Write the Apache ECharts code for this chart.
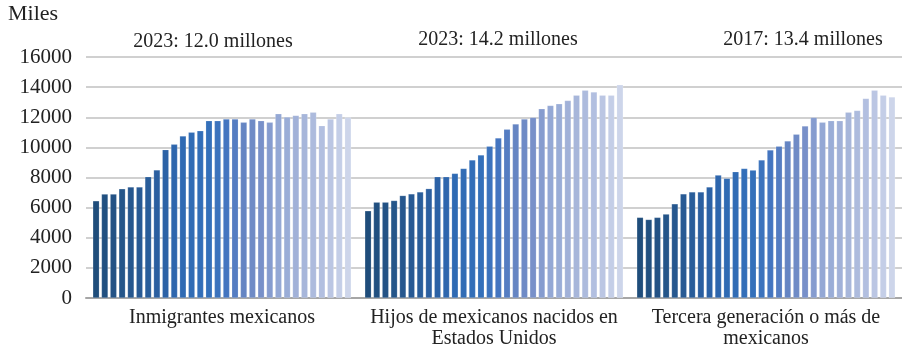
<!DOCTYPE html>
<html>
<head>
<meta charset="utf-8">
<script src="https://cdn.jsdelivr.net/npm/echarts@6/dist/echarts.min.js"></script>
<style>
html,body{margin:0;padding:0;background:#fff;}
#chart{width:902px;height:349px;}
</style>
</head>
<body>
<div id="chart"></div>
<script>
const categories = ['Inmigrantes mexicanos', 'Hijos de mexicanos nacidos en\nEstados Unidos', 'Tercera generación o más de\nmexicanos'];
const years = [1994,1995,1996,1997,1998,1999,2000,2001,2002,2003,2004,2005,2006,2007,2008,2009,2010,2011,2012,2013,2014,2015,2016,2017,2018,2019,2020,2021,2022,2023];
const inmigrantes = [6450,6900,6900,7250,7370,7370,8050,8500,9850,10200,10750,11000,11100,11770,11770,11880,11880,11660,11880,11770,11660,12230,12010,12120,12230,12340,11440,11880,12230,12000];
const hijos = [5790,6360,6360,6470,6800,6910,7040,7260,8050,8050,8270,8600,9170,9500,10080,10630,11200,11550,11880,11990,12560,12780,12890,13110,13460,13790,13680,13460,13460,14150];
const tercera = [5350,5210,5350,5570,6250,6910,7040,7040,7370,8160,7940,8380,8600,8490,9170,9830,10080,10430,10870,11420,11990,11660,11770,11770,12340,12450,13250,13790,13460,13350];
const yTicks = [0,2000,4000,6000,8000,10000,12000,14000,16000];
const notes = ['2023: 12.0 millones', '2023: 14.2 millones', '2017: 13.4 millones'];

// colour ramp anchors (index -> colour)
const anchors = [[0,'#1f4d7b'],[4,'#26578e'],[8,'#2c62a6'],[10,'#2f6ab3'],[13,'#3470ba'],[15,'#4475c0'],[17,'#6585c3'],[19,'#7890c9'],[21,'#94a8d5'],[24,'#a7b6da'],[26,'#b2bfe0'],[29,'#cdd5ea']];
function hex2rgb(h){return [1,3,5].map(i=>parseInt(h.substr(i,2),16));}
function colorAt(i){
  for(let k=0;k<anchors.length-1;k++){
    const [a,ca]=anchors[k],[b,cb]=anchors[k+1];
    if(i>=a&&i<=b){
      const t=(i-a)/(b-a),A=hex2rgb(ca),B=hex2rgb(cb);
      return 'rgb('+A.map((v,j)=>Math.round(v+(B[j]-v)*t)).join(',')+')';
    }
  }
  return anchors[anchors.length-1][1];
}

const FONT = '"Liberation Serif", "DejaVu Serif", serif';
const series = years.map((y,i)=>({
  name: String(y),
  type: 'bar',
  data: [inmigrantes[i], hijos[i], tercera[i]],
  itemStyle: {color: colorAt(i), borderColor: 'rgba(255,255,255,0.35)', borderWidth: 0.5},
  barGap: '33%',
  barCategoryGap: '5%',
  animation: false
}));

const chart = echarts.init(document.getElementById('chart'), null, {renderer:'canvas'});
chart.setOption({
  animation: false,
  grid: {left: 86, right: -2, top: 57, bottom: 50, containLabel: false},
  xAxis: {
    type: 'category',
    data: categories,
    axisTick: {show: false},
    axisLine: {lineStyle: {color: '#a6a6a6', width: 2}},
    axisLabel: {color: '#222', fontFamily: FONT, fontSize: 20, lineHeight: 21, margin: 9, interval: 0}
  },
  yAxis: {
    type: 'value',
    min: yTicks[0], max: yTicks[yTicks.length-1], interval: 2000,
    axisLine: {show: false}, axisTick: {show: false},
    axisLabel: {color: '#222', fontFamily: FONT, fontSize: 21, margin: 14, formatter: v => String(v)},
    splitLine: {lineStyle: {color: '#c0c0c0', width: 1.5}}
  },
  graphic: [
    {type:'text', left: 8, top: 3, style:{text:'Miles', font:'22px '+FONT, fill:'#222'}},
    {type:'text', x: 213, y: 42, style:{text:notes[0], font:'20px '+FONT, fill:'#222', align:'center', verticalAlign:'middle'}},
    {type:'text', x: 498, y: 40, style:{text:notes[1], font:'20px '+FONT, fill:'#222', align:'center', verticalAlign:'middle'}},
    {type:'text', x: 803, y: 40, style:{text:notes[2], font:'20px '+FONT, fill:'#222', align:'center', verticalAlign:'middle'}}
  ],
  series: series
});
</script>
</body>
</html>
